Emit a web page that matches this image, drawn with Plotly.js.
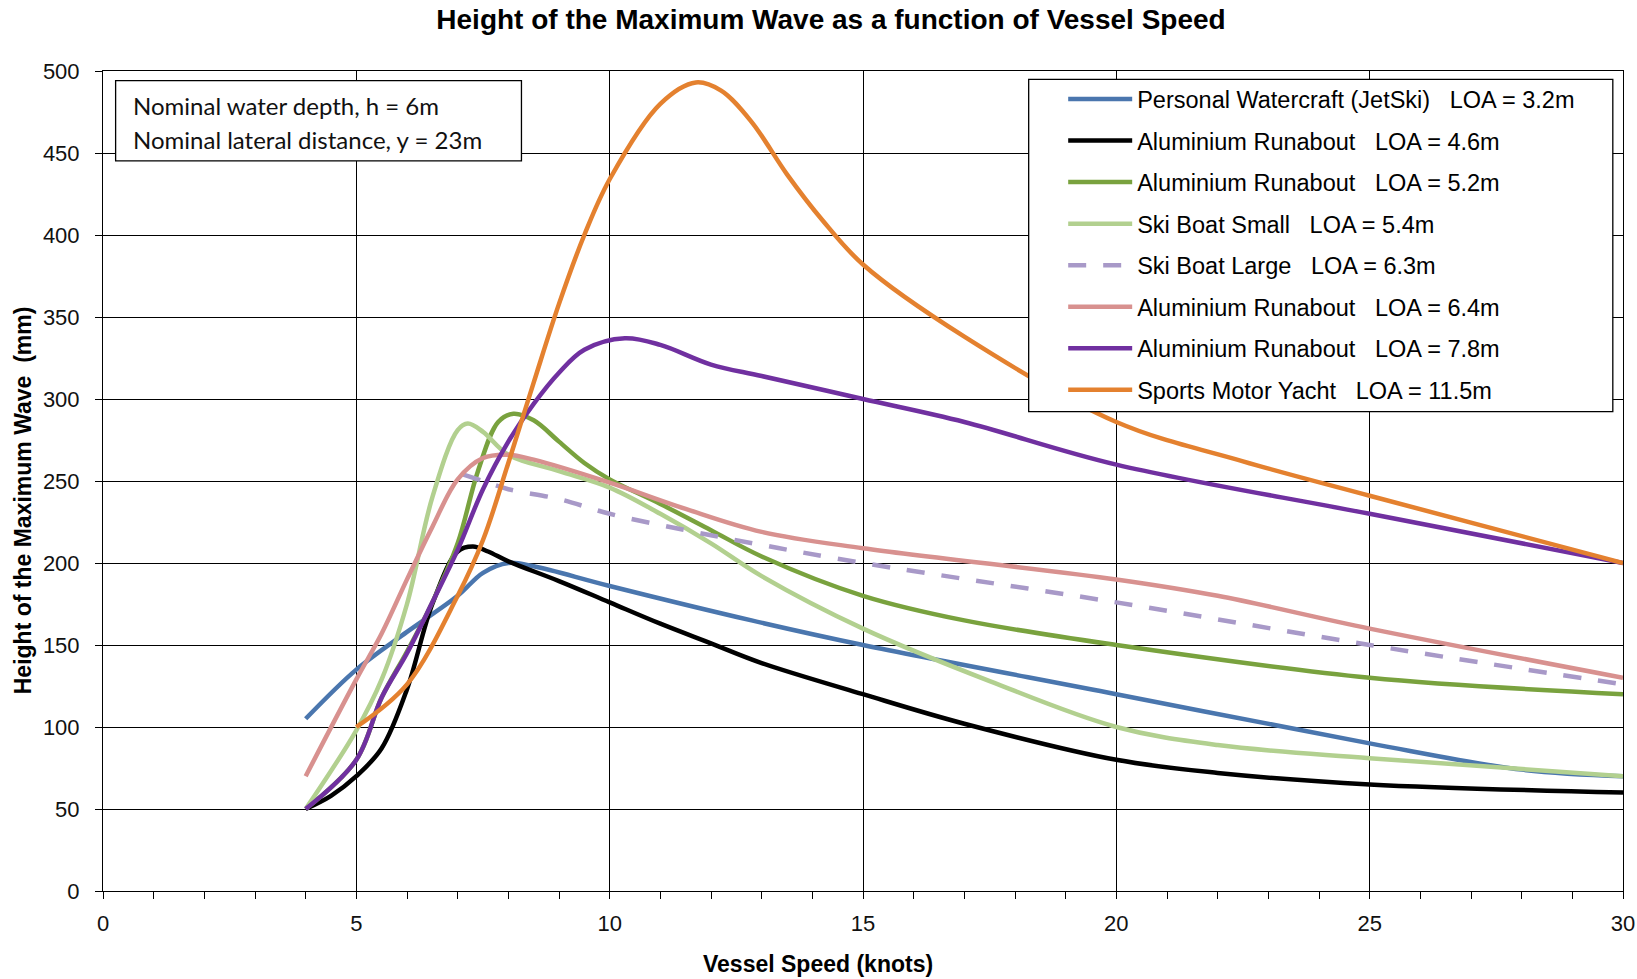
<!DOCTYPE html>
<html>
<head>
<meta charset="utf-8">
<script src="https://cdn.plot.ly/plotly-3.0.1.min.js"></script>
<style>
html,body{margin:0;padding:0;background:#fff;}
#chart{width:1637px;height:979px;}
</style>
</head>
<body>
<div id="chart"></div>
<script>
// ---- data ----
const seriesNames = [
  "Personal Watercraft (JetSki)\u00a0\u00a0\u00a0LOA = 3.2m",
  "Aluminium Runabout\u00a0\u00a0\u00a0LOA = 4.6m",
  "Aluminium Runabout\u00a0\u00a0\u00a0LOA = 5.2m",
  "Ski Boat Small\u00a0\u00a0\u00a0LOA = 5.4m",
  "Ski Boat Large\u00a0\u00a0\u00a0LOA = 6.3m",
  "Aluminium Runabout\u00a0\u00a0\u00a0LOA = 6.4m",
  "Aluminium Runabout\u00a0\u00a0\u00a0LOA = 7.8m",
  "Sports Motor Yacht\u00a0\u00a0\u00a0LOA = 11.5m"
];
const seriesColors = ["#4A76AE","#000000","#79A23E","#B2D08F","#A899C8","#D8918F","#7030A0","#E4812F"];

const speedJetSki   = [4, 5, 6, 7, 7.5, 8, 8.5, 10, 12.8, 15, 20, 25, 28, 30];
const heightJetSki  = [105, 135, 158, 180, 194, 200, 198, 186, 165, 150, 120, 90, 74, 70];

const speedAlu46    = [4, 4.5, 5, 5.5, 6, 6.5, 7, 7.3, 7.6, 8, 9, 10, 11, 12, 13, 15, 17, 20, 22, 25, 30];
const heightAlu46   = [50, 58, 70, 87, 123, 175, 207, 210, 207, 201, 189, 176, 163, 151, 139, 120, 102, 80, 72, 65, 60];

const speedAlu52    = [4, 5, 5.5, 6, 6.5, 7, 7.4, 7.8, 8.1, 8.5, 9, 9.5, 10, 11, 12, 13, 15, 17, 20, 25, 30];
const heightAlu52   = [50, 80, 118, 146, 176, 212, 256, 286, 291, 287, 274, 261, 251, 236, 220, 204, 180, 165, 150, 130, 120];

const speedSkiSmall  = [4, 5, 5.5, 6, 6.5, 7, 7.2, 7.5, 8, 9, 10, 11, 12, 13, 15, 17.5, 20, 22, 25, 30];
const heightSkiSmall = [50, 98, 129, 175, 240, 281, 285, 280, 266, 256, 246, 230, 212, 192, 160, 128, 100, 89, 81, 70];

const speedSkiLarge  = [7.1, 7.5, 8, 9, 10, 11.5, 13, 15, 20, 25, 30];
const heightSkiLarge = [254, 250, 245, 239, 230, 220, 211, 200, 176, 150, 126];

const speedAlu64    = [4, 5, 5.5, 6, 6.5, 7, 7.5, 8, 8.5, 10, 11.5, 13, 15, 20, 22, 25, 30];
const heightAlu64   = [70, 129, 157, 190, 222, 251, 264, 266, 263, 249, 233, 219, 209, 190, 180, 160, 130];

const speedAlu78    = [4, 5, 5.5, 6, 6.5, 7, 7.5, 8, 8.5, 9, 9.5, 10.3, 11, 12, 13, 15, 17, 20, 25, 30];
const heightAlu78   = [50, 80, 118, 145, 176, 208, 245, 274, 297, 316, 330, 337, 333, 321, 314, 300, 286, 260, 230, 200];

const speedYacht    = [5, 6, 7, 7.5, 8, 8.5, 9, 9.5, 10, 11, 11.7, 12.2, 12.8, 13.5, 14.2, 15, 17, 20, 22.5, 25, 30];
const heightYacht   = [100, 126, 180, 214, 261, 310, 358, 400, 434, 480, 493, 488, 469, 437, 409, 382, 338, 286, 262, 241, 200];

const xTickValues = [0, 5, 10, 15, 20, 25, 30];
const yTickValues = [0, 50, 100, 150, 200, 250, 300, 350, 400, 450, 500];

const titleText = "Height of the Maximum Wave as a function of Vessel Speed";
const xTitleText = "Vessel Speed (knots)";
const yTitleText = "Height of the Maximum Wave\u00a0\u00a0(mm)";
const noteLines = ["Nominal water depth, h = 6m", "Nominal lateral distance, y = 23m"];

// ---- build traces ----
const xs = [speedJetSki, speedAlu46, speedAlu52, speedSkiSmall, speedSkiLarge, speedAlu64, speedAlu78, speedYacht];
const ys = [heightJetSki, heightAlu46, heightAlu52, heightSkiSmall, heightSkiLarge, heightAlu64, heightAlu78, heightYacht];

const traces = xs.map((x, i) => ({
  type: "scatter",
  mode: "lines",
  x: x,
  y: ys[i],
  name: seriesNames[i],
  legendgroup: "g" + i,
  line: {
    color: seriesColors[i],
    width: 4.5,
    shape: "spline",
    smoothing: 1,
    dash: i === 4 ? "18px,17px" : "solid"
  },
  hoverinfo: "x+y+name"
}));

const FONT = "'Liberation Sans', Arial, sans-serif";

const layout = {
  width: 1637,
  height: 979,
  paper_bgcolor: "#ffffff",
  plot_bgcolor: "#ffffff",
  margin: {l: 103, r: 14, t: 71, b: 88, pad: 0},
  showlegend: true,
  font: {family: FONT, color: "#000"},
  title: {
    text: titleText,
    font: {family: FONT, size: 28, color: "#000", weight: "bold"},
    x: 831 / 1637, xref: "container", xanchor: "center",
    y: 1 - 19 / 979, yref: "container", yanchor: "middle"
  },
  xaxis: {
    range: [0, 30],
    tickvals: xTickValues,
    ticks: "outside", ticklen: 7, tickwidth: 1, tickcolor: "#000",
    minor: {dtick: 1, ticks: "outside", ticklen: 7, tickwidth: 1, tickcolor: "#000", showgrid: false},
    showgrid: true, gridcolor: "#000", gridwidth: 1,
    showline: true, linecolor: "#000", linewidth: 1, mirror: true,
    zeroline: false,
    tickfont: {family: FONT, size: 22, color: "#111"},
    ticklabelstandoff: 6,
    fixedrange: true
  },
  yaxis: {
    range: [0, 500],
    tickvals: yTickValues,
    ticks: "outside", ticklen: 7, tickwidth: 1, tickcolor: "#000",
    showgrid: true, gridcolor: "#000", gridwidth: 1,
    showline: true, linecolor: "#000", linewidth: 1, mirror: true,
    zeroline: false,
    tickfont: {family: FONT, size: 22, color: "#111"},
    ticklabelstandoff: 11,
    fixedrange: true
  },
  legend: {
    x: 0.6317, xanchor: "left", xref: "paper",
    y: 0.9924, yanchor: "top", yref: "paper",
    bgcolor: "rgba(0,0,0,0)", borderwidth: 0,
    font: {family: FONT, size: 23.5, color: "#000"},
    itemwidth: 64,
    tracegroupgap: 8,
    traceorder: "grouped"
  },
  shapes: [
    {type: "rect", xref: "paper", yref: "paper", x0: 0.0083, x1: 0.2753, y0: 0.8903, y1: 0.9882,
     fillcolor: "#fff", line: {color: "#000", width: 1.3}, layer: "above"},
    {type: "rect", xref: "paper", yref: "paper", x0: 0.6090, x1: 0.9933, y0: 0.5847, y1: 0.9899,
     fillcolor: "#fff", line: {color: "#000", width: 1.3}, layer: "above"}
  ],
  annotations: [
    {text: noteLines[0], xref: "paper", yref: "paper", x: 0.0185, y: 0.9585, xanchor: "left", yanchor: "middle",
     showarrow: false, font: {family: "Lato, 'Open Sans', sans-serif", size: 24, color: "#111"}},
    {text: noteLines[1], xref: "paper", yref: "paper", x: 0.0185, y: 0.9159, xanchor: "left", yanchor: "middle",
     showarrow: false, font: {family: "Lato, 'Open Sans', sans-serif", size: 24, color: "#111"}},
    {text: xTitleText, xref: "paper", yref: "paper", x: 0.4705, y: -0.0886, xanchor: "center", yanchor: "middle",
     showarrow: false, font: {family: FONT, size: 23, color: "#000", weight: "bold"}},
    {text: yTitleText, xref: "paper", yref: "paper", x: -0.0527, y: 0.4764, xanchor: "center", yanchor: "middle",
     textangle: -90, showarrow: false, font: {family: FONT, size: 23, color: "#000", weight: "bold"}}
  ]
};

Plotly.newPlot("chart", traces, layout, {staticPlot: true, displayModeBar: false});
</script>
</body>
</html>
